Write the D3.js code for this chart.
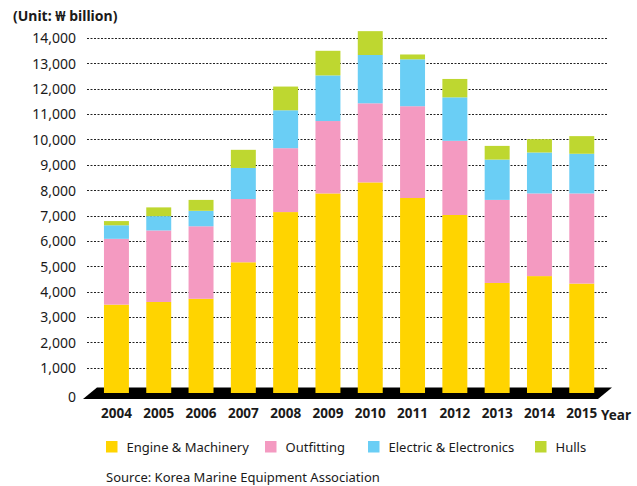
<!DOCTYPE html>
<html>
<head>
<meta charset="utf-8">
<script src="https://cdn.jsdelivr.net/npm/d3@7"></script>
<style>
  body { margin: 0; background: #fff; }
  svg text { font-family: "Noto Sans", "Open Sans", sans-serif; fill: #1a1a1a; }
</style>
</head>
<body>
<div id="chart"></div>
<script>
// values, KRW billion
const years = ["2004", "2005", "2006", "2007", "2008", "2009", "2010", "2011", "2012", "2013", "2014", "2015"];
const engine = [3485, 3590, 3715, 5155, 7135, 7870, 8305, 7690, 7020, 4340, 4610, 4315];
const outfitting = [2595, 2820, 2860, 2495, 2520, 2855, 3120, 3620, 2925, 3275, 3260, 3555];
const electric = [535, 565, 610, 1225, 1495, 1800, 1905, 1850, 1715, 1590, 1615, 1565];
const hulls = [165, 345, 430, 715, 935, 970, 940, 190, 725, 540, 525, 695];
const seriesNames = ["Engine & Machinery", "Outfitting", "Electric & Electronics", "Hulls"];
const seriesColors = ["#ffd400", "#f49ac1", "#6acef5", "#bed730"];
const yTicks = [0, 1000, 2000, 3000, 4000, 5000, 6000, 7000, 8000, 9000, 10000, 11000, 12000, 13000, 14000];

const width = 637, height = 486;

const svg = d3.select("#chart").append("svg")
    .attr("width", width)
    .attr("height", height);

const x = d3.scaleBand()
    .domain(years)
    .range([95.5, 602.7])
    .paddingInner(0.41)
    .paddingOuter(0.2);

const y = d3.scaleLinear()
    .domain([0, 14000])
    .range([393, 38]);

// build rows for the stack
const rows = years.map((yr, i) => ({
    year: yr,
    "Engine & Machinery": engine[i],
    "Outfitting": outfitting[i],
    "Electric & Electronics": electric[i],
    "Hulls": hulls[i]
}));
const stacked = d3.stack().keys(seriesNames)(rows);

// unit label
svg.append("text")
    .attr("x", 13)
    .attr("y", 21)
    .attr("font-size", 14)
    .attr("font-weight", "bold")
    .text("(Unit: \u20a9 billion)");

// dashed grid lines (no line at zero, the floor sits there)
svg.append("g")
    .selectAll("line")
    .data(yTicks.filter(d => d > 0))
    .join("line")
    .attr("x1", 87)
    .attr("x2", 607)
    .attr("y1", d => Math.round(y(d)) + 0.5)
    .attr("y2", d => Math.round(y(d)) + 0.5)
    .attr("stroke", "#222")
    .attr("stroke-width", 1)
    .attr("stroke-dasharray", "2,1.5");

// y axis labels
const yAxis = d3.axisLeft(y)
    .tickValues(yTicks)
    .tickFormat(d3.format(","))
    .tickSize(0)
    .tickPadding(0);

const yAxisG = svg.append("g")
    .attr("transform", "translate(76,0)")
    .call(yAxis);
yAxisG.select(".domain").remove();
yAxisG.selectAll("text")
    .attr("font-size", 14)
    .attr("dy", "0.35em")
    .attr("y", d => d === 0 ? 4 : 0);

// black floor under the bars
const y0 = y(0);
svg.append("path")
    .attr("d", `M97,${y0 - 5.5} L612,${y0 - 5.5} L598,${y0 + 6} L83,${y0 + 6} Z`)
    .attr("fill", "#000");

// stacked bars
svg.append("g")
    .selectAll("g")
    .data(stacked)
    .join("g")
    .attr("fill", (d, i) => seriesColors[i])
    .selectAll("rect")
    .data(d => d)
    .join("rect")
    .attr("x", d => x(d.data.year))
    .attr("width", x.bandwidth())
    .attr("y", d => y(d[1]))
    .attr("height", d => y(d[0]) - y(d[1]));

// x axis labels
const xAxis = d3.axisBottom(x).tickSize(0).tickPadding(0);
const xAxisG = svg.append("g")
    .attr("transform", "translate(0,408)")
    .call(xAxis);
xAxisG.select(".domain").remove();
xAxisG.selectAll("text")
    .attr("font-size", 13.5)
    .attr("font-weight", "bold")
    .attr("dy", "0.71em");

svg.append("text")
    .attr("x", 601)
    .attr("y", 420)
    .attr("font-size", 13.5)
    .attr("font-weight", "bold")
    .text("Year");

// legend
const legendX = [106, 265, 368, 535];
const legend = svg.append("g")
    .selectAll("g")
    .data(seriesNames)
    .join("g")
    .attr("transform", (d, i) => `translate(${legendX[i]},441)`);
legend.append("rect")
    .attr("width", 11.5)
    .attr("height", 11.5)
    .attr("fill", (d, i) => seriesColors[i]);
legend.append("text")
    .attr("x", 20.5)
    .attr("y", 10.5)
    .attr("font-size", 13)
    .text(d => d);

// source
svg.append("text")
    .attr("x", 106)
    .attr("y", 482)
    .attr("font-size", 13)
    .text("Source: Korea Marine Equipment Association");
</script>
</body>
</html>
